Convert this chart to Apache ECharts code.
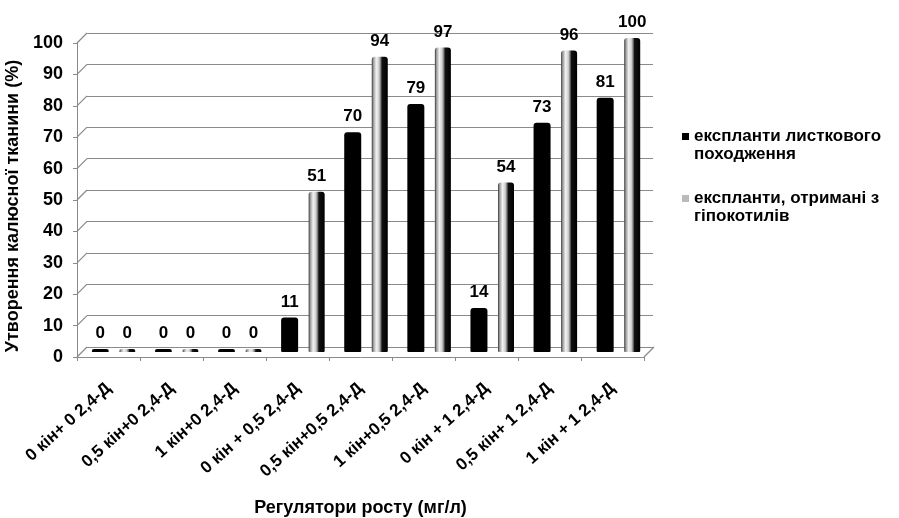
<!DOCTYPE html>
<html>
<head>
<meta charset="utf-8">
<script src="https://cdn.jsdelivr.net/npm/echarts@6/dist/echarts.min.js"></script>
<style>
  html, body { margin: 0; padding: 0; background: #fff; }
  #chart { width: 899px; height: 518px; }
</style>
</head>
<body>
<div id="chart"></div>
<script>
// Growth regulator combinations (mg/l)
const categories = [
  '0 кін+ 0 2,4-Д',
  '0,5 кін+0 2,4-Д',
  '1 кін+0 2,4-Д',
  '0 кін + 0,5 2,4-Д',
  '0,5 кін+0,5 2,4-Д',
  '1 кін+0,5 2,4-Д',
  '0 кін + 1 2,4-Д',
  '0,5 кін+ 1 2,4-Д',
  '1 кін + 1 2,4-Д'
];

// Callus formation, %
const leafExplants = [0, 0, 0, 11, 70, 79, 14, 73, 81];
const hypocotylExplants = [0, 0, 0, 51, 94, 97, 54, 96, 100];

// Value-axis ticks
const yTicks = [0, 10, 20, 30, 40, 50, 60, 70, 80, 90, 100];

const seriesNames = [
  'експланти листкового\nпоходження',
  'експланти, отримані з\nгіпокотилів'
];

const FONT = 'Liberation Sans, Arial, sans-serif';
const DEPTH = 10;          // pseudo-3D depth offset of the back wall, px
const GRID_COLOR = '#8a8a8a';

// Legend marker: small square in the upper part of a tall icon box,
// so it lines up with the first line of a two-line legend entry.
const LEGEND_ICON = 'path://M0,0H7V7H0Z M0,24H0.01V24.01H0Z';

const chart = echarts.init(document.getElementById('chart'), null, { renderer: 'canvas' });

const greyBarFill = new echarts.graphic.LinearGradient(0, 0, 1, 0, [
  { offset: 0.00, color: '#333' },
  { offset: 0.10, color: '#9a9a9a' },
  { offset: 0.28, color: '#f2f2f2' },
  { offset: 0.45, color: '#d0d0d0' },
  { offset: 0.56, color: '#777' },
  { offset: 0.64, color: '#111' },
  { offset: 1.00, color: '#000' }
]);

const labelStyle = {
  show: true,
  position: 'top',
  distance: 7,
  fontFamily: FONT,
  fontWeight: 'bold',
  fontSize: 17,
  color: '#000'
};

const gridBase = { outerBoundsMode: 'none', containLabel: false };

chart.setOption({
  animation: false,
  backgroundColor: '#fff',
  textStyle: { fontFamily: FONT },
  grid: [
    // bars (mid depth)
    Object.assign({ left: 82, top: 38, width: 568, height: 314 }, gridBase),
    // back wall with gridlines
    Object.assign({ left: 77 + DEPTH, top: 43 - DEPTH, width: 566, height: 314 }, gridBase),
    // front axes
    Object.assign({ left: 77, top: 43, width: 567, height: 314 }, gridBase)
  ],
  xAxis: [
    { gridIndex: 0, type: 'category', data: categories, show: false },
    { gridIndex: 1, type: 'category', data: categories, show: false },
    {
      gridIndex: 2, type: 'category', data: categories,
      axisLine: { show: true, lineStyle: { color: GRID_COLOR, width: 1 } },
      axisTick: { show: true, length: 4, lineStyle: { color: GRID_COLOR } },
      axisLabel: {
        rotate: 42, margin: 29, interval: 0,
        fontFamily: FONT, fontWeight: 'bold', fontSize: 17, color: '#000'
      },
      name: 'Регулятори росту (мг/л)',
      nameLocation: 'middle',
      nameGap: 142,
      nameTextStyle: { fontFamily: FONT, fontWeight: 'bold', fontSize: 18, color: '#000' }
    },
    { gridIndex: 2, type: 'value', min: 0, max: 1, show: false }
  ],
  yAxis: [
    { gridIndex: 0, type: 'value', min: 0, max: 100, interval: 10, show: false },
    {
      gridIndex: 1, type: 'value', min: 0, max: 100, interval: 10,
      axisLine: { show: false }, axisTick: { show: false }, axisLabel: { show: false },
      splitLine: { show: true, lineStyle: { color: GRID_COLOR, width: 1.2 } }
    },
    {
      gridIndex: 2, type: 'value', min: 0, max: 100, interval: 10,
      axisLine: { show: true, lineStyle: { color: GRID_COLOR, width: 1 } },
      axisTick: { show: true, length: 4, lineStyle: { color: GRID_COLOR } },
      splitLine: { show: false },
      axisLabel: {
        margin: 14, fontFamily: FONT, fontWeight: 'bold', fontSize: 18, color: '#000'
      },
      name: 'Утворення калюсної тканини (%)',
      nameLocation: 'middle',
      nameGap: 42,
      nameRotate: 90,
      nameTextStyle: {
        fontFamily: FONT, fontWeight: 'bold', fontSize: 18, color: '#000',
        padding: [0, 12, 0, 0]
      }
    }
  ],
  legend: {
    orient: 'vertical',
    left: 682,
    top: 127,
    padding: 0,
    itemWidth: 7,
    itemHeight: 24,
    itemGap: 26,
    icon: LEGEND_ICON,
    align: 'left',
    textStyle: {
      fontFamily: FONT, fontWeight: 'bold', fontSize: 17, color: '#000',
      lineHeight: 18
    },
    data: [
      { name: seriesNames[0], itemStyle: { color: '#000' } },
      { name: seriesNames[1], itemStyle: { color: '#bbb' } }
    ]
  },
  series: [
    {
      // left wall connectors and right floor edge, drawn on the front axes
      type: 'custom',
      xAxisIndex: 3,
      yAxisIndex: 2,
      silent: true,
      z: 1,
      data: yTicks.map(v => [0, v]).concat([[1, 0]]),
      renderItem: function (params, api) {
        const p = api.coord([api.value(0), api.value(1)]);
        return {
          type: 'line',
          shape: { x1: p[0], y1: p[1], x2: p[0] + DEPTH, y2: p[1] - DEPTH },
          style: { stroke: GRID_COLOR, lineWidth: 1.2 }
        };
      }
    },
    {
      name: seriesNames[0],
      type: 'bar',
      xAxisIndex: 0,
      yAxisIndex: 0,
      data: leafExplants,
      barWidth: 17,
      barGap: '62%',
      barMinHeight: 3,
      z: 3,
      itemStyle: { color: '#000', borderRadius: [3, 3, 1, 1] },
      label: labelStyle
    },
    {
      name: seriesNames[1],
      type: 'bar',
      xAxisIndex: 0,
      yAxisIndex: 0,
      data: hypocotylExplants,
      barWidth: 16,
      barMinHeight: 3,
      z: 3,
      itemStyle: { color: greyBarFill, borderRadius: [3, 3, 1, 1] },
      label: labelStyle
    }
  ]
});
</script>
</body>
</html>
